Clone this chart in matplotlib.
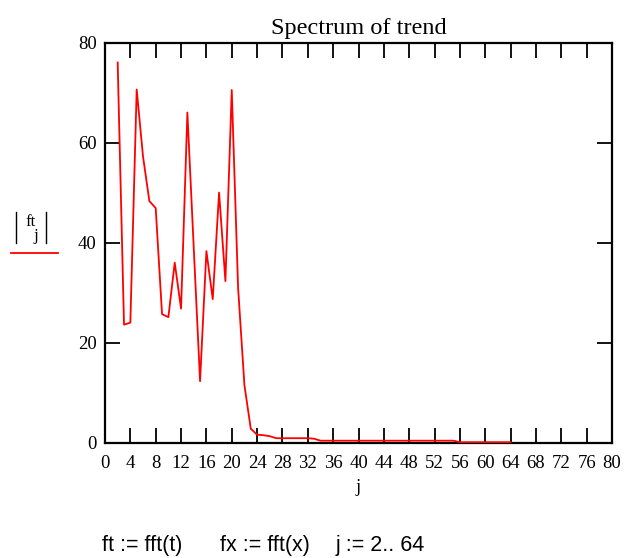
import matplotlib
matplotlib.use("Agg")
import matplotlib.pyplot as plt
from matplotlib.lines import Line2D

# spectrum magnitudes |ft_j| for j = 2..64
j_values = list(range(2, 65))
ft_mag = [76.0, 23.6, 24.0, 70.6, 57.2, 48.3, 46.9, 25.7, 25.1, 36.0,
          26.8, 66.0, 39.0, 12.3, 38.3, 28.7, 50.0, 32.3, 70.5, 31.0,
          11.5, 2.8, 1.6, 1.5, 1.3, 0.9, 0.9, 0.9, 0.9, 0.9,
          0.9, 0.8] + [0.4] * 22 + [0.1] * 9

x_ticks = list(range(0, 81, 4))
y_ticks = [0, 20, 40, 60, 80]

serif = "Liberation Serif"
sans = "Liberation Sans"

fig = plt.figure(figsize=(6.25, 5.58), dpi=100)
ax = fig.add_axes([105 / 625, 1 - 442.7 / 558, 507 / 625, 400.2 / 558])

ax.plot(j_values, ft_mag, color="#ff0000", linewidth=1.3, zorder=3)

ax.set_xlim(0, 80)
ax.set_ylim(0, 80)
ax.set_xticks(x_ticks)
ax.set_yticks(y_ticks)
ax.tick_params(direction="in", length=11, width=1.3, top=True, right=True,
               labelsize=13.5)
ax.tick_params(axis="x", pad=9)
ax.tick_params(axis="y", pad=6)
for lab in ax.get_xticklabels() + ax.get_yticklabels():
    lab.set_family(serif)
for sp in ax.spines.values():
    sp.set_linewidth(1.6)

ax.set_title("Spectrum of trend", family=serif, fontsize=17.5, pad=6)
ax.set_xlabel("j", family=serif, fontsize=13.5, labelpad=5)

# Mathcad-style y label: |ft_j| with trace legend line underneath
for bx in (16, 46):
    fig.add_artist(Line2D([bx / 625, bx / 625], [1 - 212 / 558, 1 - 243 / 558],
                          color="black", linewidth=1.0))
fig.text(25 / 625, 1 - 222 / 558, "ft", family=serif, fontsize=12,
         ha="left", va="center")
fig.text(33 / 625, 1 - 236 / 558, "j", family=serif, fontsize=12,
         ha="left", va="center")
fig.add_artist(Line2D([11 / 625, 58 / 625], [1 - 252.5 / 558, 1 - 252.5 / 558],
                      color="#ff0000", linewidth=1.3))

# definitions shown under the plot
fig.text(102 / 625, 1 - 546 / 558, "ft := fft(t)", family=sans, fontsize=15.5,
         ha="left", va="center")
fig.text(220 / 625, 1 - 546 / 558, "fx := fft(x)", family=sans, fontsize=15.5,
         ha="left", va="center")
fig.text(336 / 625, 1 - 546 / 558, "j := 2.. 64", family=sans, fontsize=15.5,
         ha="left", va="center")

fig.savefig("out.png", dpi=100)
